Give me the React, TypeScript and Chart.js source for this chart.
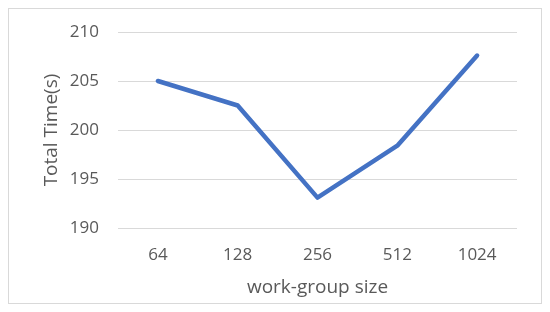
import React, { useEffect, useRef } from "react";
import { Chart, registerables } from "chart.js";

Chart.register(...registerables);

const categories = ["64", "128", "256", "512", "1024"];
const totalTime = [205.0, 202.5, 193.1, 198.4, 207.6];
const yMin = 190;
const yMax = 210;
const yStep = 5;

const FONT = "'Open Sans', sans-serif";
const TEXT = "#595959";

export default function App() {
  const ref = useRef<HTMLCanvasElement | null>(null);
  useEffect(() => {
    if (!ref.current) return;
    const chart = new Chart(ref.current, {
      type: "line",
      data: {
        labels: categories,
        datasets: [
          {
            label: "Total Time(s)",
            data: totalTime,
            borderColor: "#4472C4",
            backgroundColor: "#4472C4",
            borderWidth: 4.5,
            borderCapStyle: "round",
            borderJoinStyle: "round",
            pointRadius: 0,
            tension: 0,
          },
        ],
      },
      options: {
        animation: false,
        responsive: false,
        maintainAspectRatio: false,
        layout: { padding: { left: 0, right: 24, top: 23, bottom: 0 } },
        plugins: { legend: { display: false }, tooltip: { enabled: false } },
        scales: {
          x: {
            offset: true,
            grid: { display: false, drawTicks: false },
            border: { display: false },
            ticks: { color: TEXT, font: { family: FONT, size: 17 }, padding: 17 },
            title: {
              display: true,
              text: "work-group size",
              color: TEXT,
              font: { family: FONT, size: 19 },
              padding: { top: 0, bottom: 4 },
            },
            afterFit: (s: any) => {
              s.height = 75;
              s.paddingLeft = 0;
              s.paddingRight = 0;
            },
          },
          y: {
            min: yMin,
            max: yMax,
            grid: { color: "#d9d9d9", lineWidth: 1, drawTicks: false },
            border: { display: false },
            ticks: { stepSize: yStep, color: TEXT, font: { family: FONT, size: 17 }, padding: 19 },
            title: {
              display: true,
              text: "Total Time(s)",
              color: TEXT,
              font: { family: FONT, size: 19 },
              padding: { top: 31, bottom: 0 },
            },
            afterFit: (s: any) => {
              s.width = 109;
              s.paddingTop = 0;
              s.paddingBottom = 0;
            },
          },
        },
      },
    });
    return () => chart.destroy();
  }, []);
  return (
    <div style={{ width: 532, height: 294, border: "1px solid #d9d9d9" }}>
      <canvas ref={ref} width={532} height={294} style={{ display: "block" }} />
    </div>
  );
}
